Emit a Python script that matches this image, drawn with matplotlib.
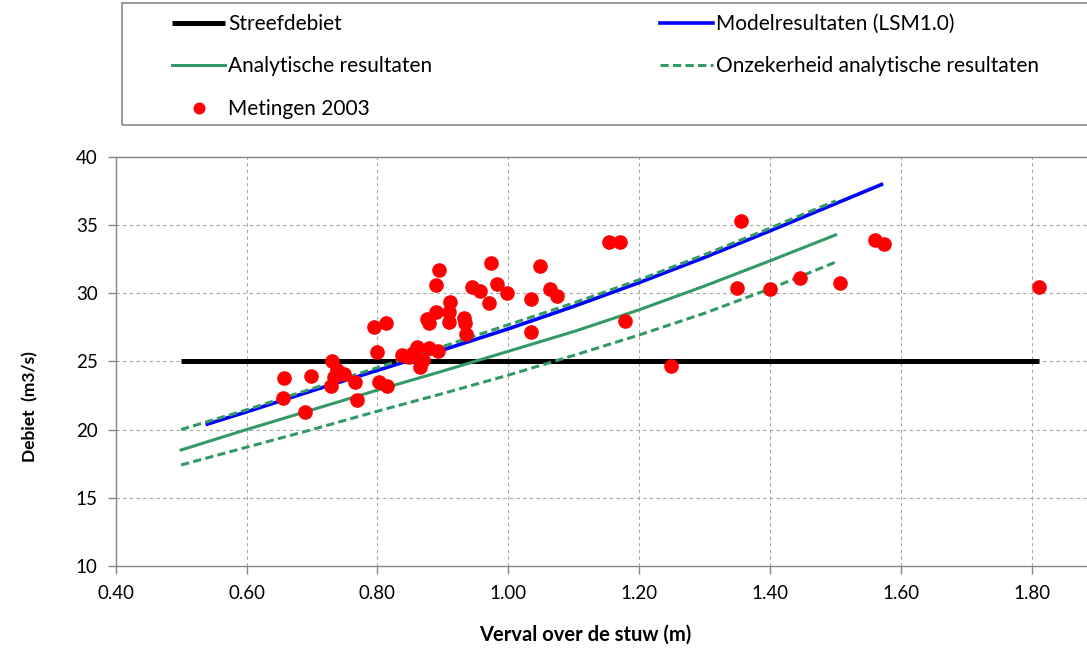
import matplotlib.pyplot as plt
from matplotlib.patches import Rectangle

# debiet over de stuw: model, analytisch en metingen

# streefdebiet
streef_x = [0.50, 1.81]
streef_y = [25.0, 25.0]

# Modelresultaten (LSM1.0)
model_x = [0.54, 0.60, 0.70, 0.80, 0.90, 1.00, 1.10, 1.20, 1.30, 1.40, 1.50, 1.57]
model_y = [20.4, 21.3, 22.85, 24.35, 25.85, 27.4, 29.05, 30.8, 32.65, 34.6, 36.6, 38.0]

# analytische resultaten + onzekerheid (boven / onder)
ana_x = [0.50, 0.60, 0.70, 0.80, 0.90, 1.00, 1.10, 1.20, 1.30, 1.40, 1.50]
ana_y = [18.5, 20.0, 21.45, 22.9, 24.3, 25.75, 27.2, 28.8, 30.55, 32.4, 34.3]
ana_hoog = [20.0, 21.45, 23.0, 24.55, 26.1, 27.7, 29.3, 31.0, 32.85, 34.8, 36.8]
ana_laag = [17.4, 18.7, 20.0, 21.35, 22.65, 24.0, 25.45, 26.95, 28.55, 30.35, 32.3]

# Metingen 2003
meting_x = [0.657, 0.656, 0.690, 0.699, 0.730, 0.738, 0.733, 0.729, 0.749, 0.766,
            0.768, 0.795, 0.813, 0.799, 0.802, 0.815, 0.837, 0.848, 0.855, 0.861,
            0.869, 0.865, 0.879, 0.893, 0.875, 0.878, 0.890, 0.890, 0.894, 0.910,
            0.910, 0.911, 0.932, 0.934, 0.936, 0.944, 0.956, 0.970, 0.974, 0.983,
            0.998, 1.035, 1.035, 1.049, 1.064, 1.074, 1.154, 1.170, 1.178, 1.248,
            1.355, 1.350, 1.400, 1.446, 1.506, 1.560, 1.574, 1.810]
meting_y = [23.8, 22.3, 21.3, 23.9, 25.05, 24.4, 23.85, 23.2, 24.1, 23.5,
            22.2, 27.5, 27.85, 25.7, 23.5, 23.2, 25.5, 25.3, 25.6, 26.05,
            25.1, 24.6, 26.0, 25.8, 28.1, 27.85, 28.6, 30.6, 31.7, 28.6,
            27.9, 29.4, 28.2, 27.8, 27.0, 30.5, 30.2, 29.3, 32.2, 30.7,
            30.0, 29.6, 27.2, 32.05, 30.3, 29.8, 33.8, 33.8, 28.0, 24.7,
            35.35, 30.4, 30.3, 31.1, 30.75, 33.9, 33.6, 30.5]

plt.rcParams['font.family'] = ['Lato', 'DejaVu Sans']

fig = plt.figure(figsize=(10.87, 6.5), dpi=100)
ax = fig.add_axes([0.1064, 0.1297, 0.9032, 0.6283])

green = '#339966'
l_streef, = ax.plot(streef_x, streef_y, color='black', lw=3.6, solid_capstyle='butt', zorder=3)
l_model, = ax.plot(model_x, model_y, color='#0000ff', lw=2.6, zorder=3)
l_ana, = ax.plot(ana_x, ana_y, color=green, lw=2.2, zorder=3)
l_onz, = ax.plot(ana_x, ana_hoog, color=green, lw=2.2, linestyle=(0, (2.7, 1.4)), zorder=4)
ax.plot(ana_x, ana_laag, color=green, lw=2.2, linestyle=(0, (2.7, 1.4)), zorder=4)
l_met, = ax.plot(meting_x, meting_y, 'o', color='#ff0000', ms=9.5, mec='#ff0000', ls='none', zorder=5)

ax.set_xlim(0.4, 1.9)
ax.set_ylim(10, 40)
ax.set_xticks([0.4, 0.6, 0.8, 1.0, 1.2, 1.4, 1.6, 1.8])
ax.set_xticklabels(['0.40', '0.60', '0.80', '1.00', '1.20', '1.40', '1.60', '1.80'])
ax.set_yticks([10, 15, 20, 25, 30, 35, 40])

ax.grid(True, color='#a6a6a6', linestyle=(0, (3, 3)), linewidth=0.8)
ax.set_axisbelow(True)
for s in ['left', 'bottom', 'top']:
    ax.spines[s].set_color('#868686')
    ax.spines[s].set_linewidth(1.0)
ax.spines['right'].set_visible(False)
ax.tick_params(colors='#868686', labelcolor='black', labelsize=13.5, length=6, width=1.0)
ax.tick_params(axis='x', pad=8)
ax.tick_params(axis='y', pad=7)

ax.set_xlabel('Verval over de stuw (m)', fontsize=14.5, fontweight='bold')
ax.xaxis.set_label_coords(0.478, -0.145)
ax.set_ylabel('Debiet  (m3/s)', fontsize=12.5, fontweight='bold')
ax.yaxis.set_label_coords(-0.079, 0.39)

# legend box boven de grafiek
fig.patches.append(Rectangle((122 / 1087, 1 - 125 / 650), 1.0, 122 / 650,
                             transform=fig.transFigure, fill=False,
                             edgecolor='#898989', lw=1.2))
leg_opts = dict(loc='upper left', frameon=False, fontsize=15, handlelength=2.55,
                handletextpad=0.15, labelspacing=1.08, borderpad=0,
                borderaxespad=0, numpoints=1, markerscale=0.8)
fig.legend([l_streef, l_ana, l_met],
           ['Streefdebiet', 'Analytische resultaten', 'Metingen 2003'],
           bbox_to_anchor=(172 / 1087, 1 - 14 / 650), **leg_opts)
fig.legend([l_model, l_onz],
           ['Modelresultaten (LSM1.0)', 'Onzekerheid analytische resultaten'],
           bbox_to_anchor=(660 / 1087, 1 - 14 / 650), **leg_opts)

fig.savefig('out.png', dpi=100)
